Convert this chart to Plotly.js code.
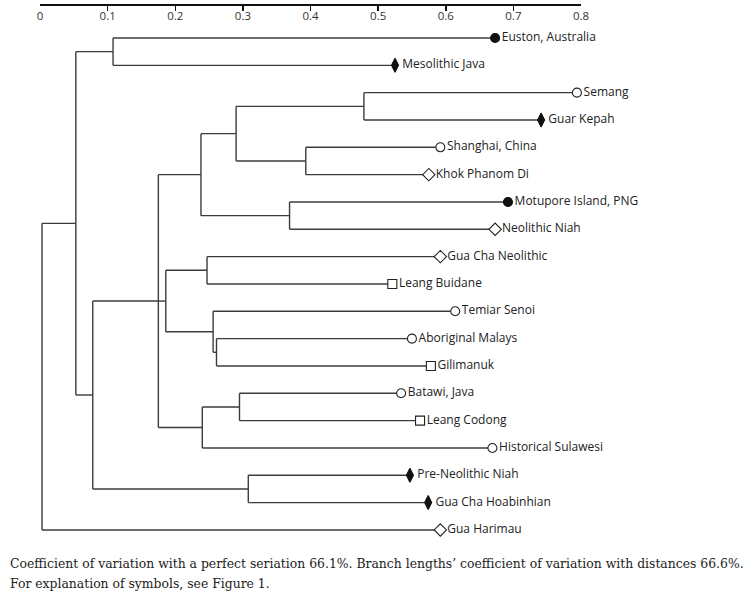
<!DOCTYPE html>
<html>
<head>
<meta charset="utf-8">
<script src="https://cdn.plot.ly/plotly-3.0.1.min.js"></script>
<style>html,body{margin:0;padding:0;background:#fff;}#chart{width:753px;height:592px;}</style>
</head>
<body>
<div id="chart"></div>
<script>
// ---- Data ----
const leafNames = ["Euston, Australia","Mesolithic Java","Semang","Guar Kepah","Shanghai, China","Khok Phanom Di",
  "Motupore Island, PNG","Neolithic Niah","Gua Cha Neolithic","Leang Buidane","Temiar Senoi","Aboriginal Malays",
  "Gilimanuk","Batawi, Java","Leang Codong","Historical Sulawesi","Pre-Neolithic Niah","Gua Cha Hoabinhian","Gua Harimau"];
const leafDist = [0.673,0.525,0.794,0.741,0.592,0.575,0.692,0.673,0.592,0.521,0.614,0.550,0.578,0.534,0.562,0.669,0.547,0.574,0.592];
const leafSymbol = ["filled-circle","filled-diamond","open-circle","filled-diamond","open-circle","open-diamond",
  "filled-circle","open-diamond","open-diamond","open-square","open-circle","open-circle",
  "open-square","open-circle","open-square","open-circle","filled-diamond","filled-diamond","open-diamond"];
// internal nodes: ids continue after the 19 leaves (19, 20, ...)
const nodeChildren = [[0,1],[2,3],[4,5],[20,21],[6,7],[22,23],[8,9],[11,12],[10,26],[25,27],[13,14],[29,15],[24,28,30],[16,17],[31,32],[19,33],[34,18]];
const nodeHeight = [0.108,0.479,0.393,0.290,0.369,0.238,0.247,0.261,0.256,0.186,0.295,0.240,0.175,0.308,0.078,0.053,0.003];
const tickVals = [0,0.1,0.2,0.3,0.4,0.5,0.6,0.7,0.8];
const tickText = ["0","0.1","0.2","0.3","0.4","0.5","0.6","0.7","0.8"];
const captionLines = ["Coefficient of variation with a perfect seriation 66.1%. Branch lengths\u2019 coefficient of variation with distances 66.6%.",
  "For explanation of symbols, see Figure 1."];

// ---- Build tree geometry ----
const nLeaf = leafNames.length;
const X = [], Y = [];
leafNames.forEach((n,i)=>{X[i]=leafDist[i]; Y[i]=i;});
nodeChildren.forEach((ch,k)=>{
  const id = nLeaf + k;
  X[id] = nodeHeight[k];
  Y[id] = (Y[ch[0]] + Y[ch[ch.length-1]]) / 2;
});
const lx = [], ly = [];
nodeChildren.forEach((ch,k)=>{
  const id = nLeaf + k;
  lx.push(X[id], X[id], null); ly.push(Y[ch[0]], Y[ch[ch.length-1]], null);
  ch.forEach(c=>{ lx.push(X[id], X[c], null); ly.push(Y[c], Y[c], null); });
});

const traces = [{
  type:'scatter', mode:'lines', x:lx, y:ly, hoverinfo:'skip',
  line:{color:'#3c3c3c', width:1.4}, showlegend:false
}];

const styles = {
  'filled-circle':{symbol:'circle', size:9, color:'#111', lc:'#111'},
  'open-circle':{symbol:'circle', size:9, color:'#fff', lc:'#222'},
  'filled-diamond':{symbol:'diamond-tall', size:10, color:'#111', lc:'#111'},
  'open-diamond':{symbol:'diamond', size:9.5, color:'#fff', lc:'#222'},
  'open-square':{symbol:'square', size:9, color:'#fff', lc:'#222'}
};
Object.keys(styles).forEach(key=>{
  const idx = leafSymbol.map((s,i)=>s===key?i:-1).filter(i=>i>=0);
  const st = styles[key];
  traces.push({
    type:'scatter', mode:'markers+text', cliponaxis:false,
    x:idx.map(i=>leafDist[i]), y:idx.map(i=>i), text:idx.map(i=>leafNames[i]),
    textposition:'middle right',
    textfont:{family:'Open Sans, sans-serif', size:12, color:'#222'},
    marker:{symbol:st.symbol, size:st.size, color:st.color, line:{color:st.lc, width:1.1}},
    showlegend:false, hoverinfo:'text'
  });
});

const layout = {
  width:753, height:592,
  margin:{l:40, r:172, t:6, b:52},
  paper_bgcolor:'#fff', plot_bgcolor:'#fff',
  showlegend:false,
  xaxis:{range:[0,0.8], side:'top', showline:true, linecolor:'#111', linewidth:2,
    ticks:'inside', ticklen:5, tickwidth:1.5, tickcolor:'#111',
    ticklabelposition:'inside', ticklabeloverflow:'allow', tickvals:tickVals, ticktext:tickText,
    tickfont:{family:'Open Sans, sans-serif', size:11.5, color:'#333'},
    showgrid:false, zeroline:false, fixedrange:true},
  yaxis:{range:[18.368,-1.171], visible:false, showgrid:false, zeroline:false, fixedrange:true},
  annotations: captionLines.map((t,i)=>({
    xref:'paper', yref:'paper', x:(8-40)/541, y:(540-(563+i*20))/534,
    xanchor:'left', yanchor:'middle', showarrow:false, align:'left', text:t,
    font:{family:'DejaVu Serif, serif', size:12.4, color:'#222'}
  }))
};
Plotly.newPlot('chart', traces, layout, {staticPlot:true, displayModeBar:false});
</script>
</body>
</html>
